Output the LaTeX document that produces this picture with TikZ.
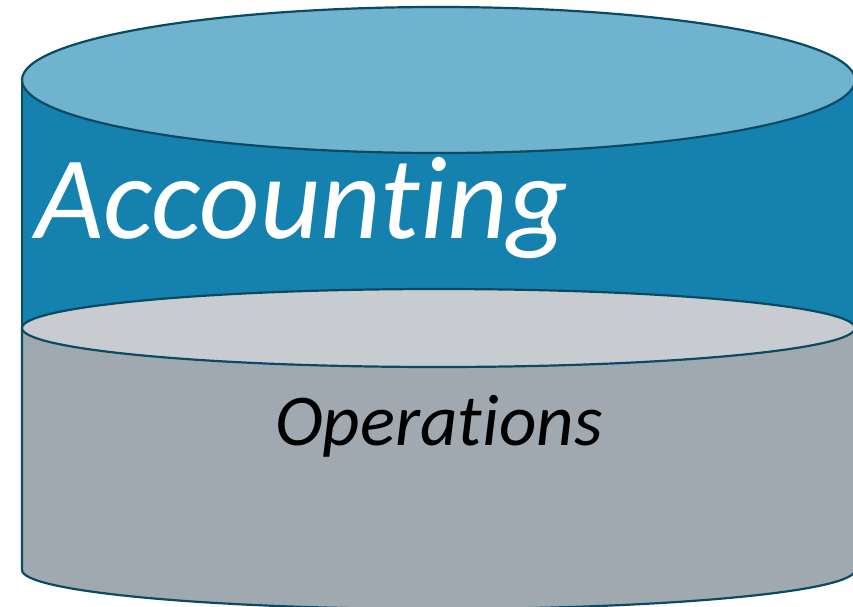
\documentclass[tikz,border=0pt]{standalone}
\usepackage{fontspec}
\setmainfont{Carlito}[Ligatures={NoCommon,NoRequired,NoContextual,NoRare,NoDiscretionary}]
\definecolor{edge}{HTML}{0B4A63}
\definecolor{toplight}{HTML}{70B3CF}
\definecolor{blueside}{HTML}{1581AE}
\definecolor{graylight}{HTML}{C8CCD0}
\definecolor{grayside}{HTML}{A0A9AF}
\tikzset{
  outline/.style={draw=edge, line width=2.2pt, line join=round},
  bigtext/.style={inner sep=0pt, text=white, font=\fontsize{118}{118}\selectfont\itshape},
  smalltext/.style={inner sep=0pt, text=black, font=\fontsize{73}{73}\selectfont\itshape}
}
\begin{document}
\begin{tikzpicture}[x=1pt,y=1pt]
\useasboundingbox (0,0) rectangle (853,-606);
% gray lower cylinder body
\path[outline, fill=grayside] (22,-328) -- (22,-570)
  arc[start angle=180, end angle=360, x radius=416.5pt, y radius=39pt]
  -- (855,-328) -- cycle;
% blue upper cylinder body
\path[outline, fill=blueside] (22,-80) rectangle (855,-328);
% gray top ellipse
\path[outline, fill=graylight] (438.5,-328) ellipse[x radius=416.5pt, y radius=39pt];
% blue top ellipse
\path[outline, fill=toplight] (438.5,-80) ellipse[x radius=416.5pt, y radius=73pt];
\node[bigtext, anchor=base west] (acc) at (35,-238) {Accounting};
\node[smalltext, anchor=base west] (ops) at (275,-445) {Operations};
\end{tikzpicture}
\end{document}
